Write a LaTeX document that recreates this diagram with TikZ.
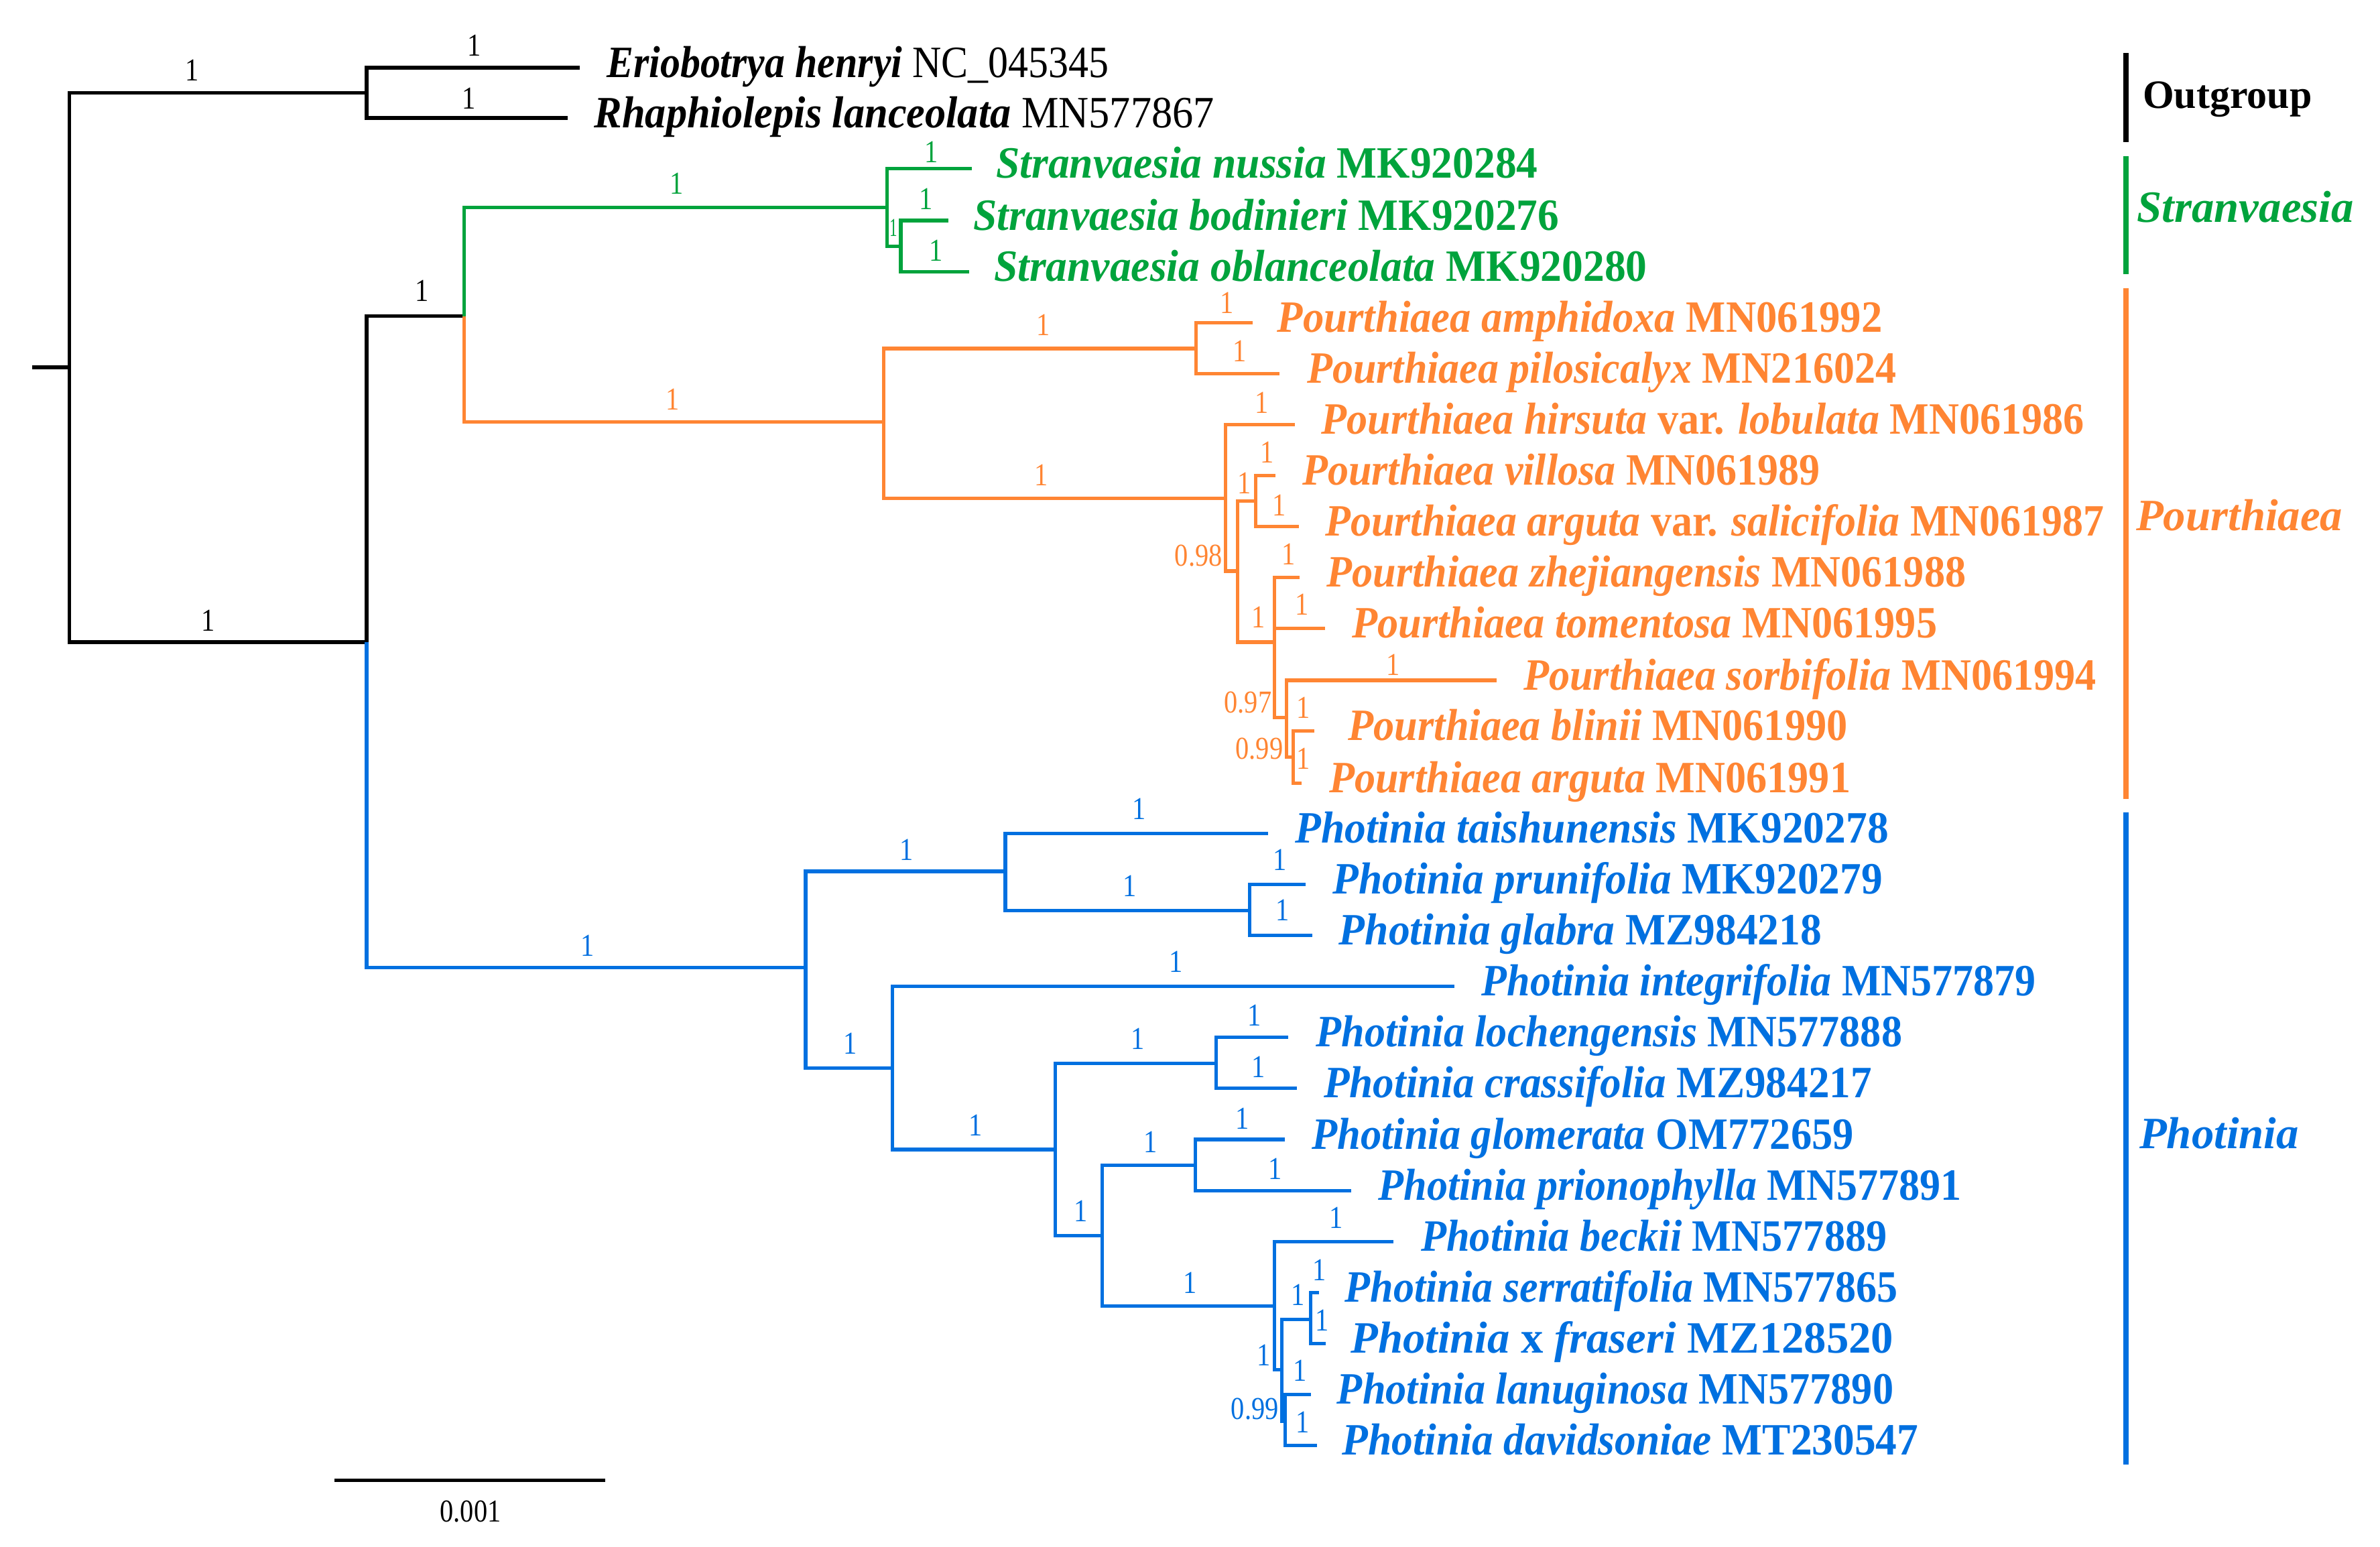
\documentclass[tikz,border=0pt]{standalone}
\usepackage{fontspec}
\setmainfont{Liberation Serif}
\usepackage{graphicx}
\definecolor{cg}{RGB}{0,163,60}
\definecolor{co}{RGB}{255,133,51}
\definecolor{cb}{RGB}{0,112,224}
\newcommand\tipfont{\fontsize{29.5}{30}\selectfont}
\newcommand\bsfont{\fontsize{21}{21}\selectfont}
\newcommand\sqz[1]{\scalebox{0.85}[1]{#1}}
\newcommand\taxon[3]{\resizebox{#1pt}{\height}{\bfseries\itshape #2 \upshape #3}}
\tikzset{
  br/.style={line width=2.3pt, line join=miter},
  bs/.style={inner sep=0pt, font=\bsfont},
  tip/.style={anchor=base west, inner sep=0pt, font=\tipfont},
  clade/.style={line width=3.6pt},
  cladelab/.style={anchor=base west, inner sep=0pt, font=\fontsize{29.5}{30}\selectfont\bfseries\itshape},
}
\begin{document}
\begin{tikzpicture}[x=1pt,y=-1pt]
\useasboundingbox (0,0) rectangle (1568,1018.7);
% ---------- coordinates ----------
\coordinate (stub) at (21,242);
\coordinate (R0) at (45.6,242);
\coordinate (OG) at (241.5,61);
\coordinate (t1) at (382,44.6);
\coordinate (t2) at (374,77.7);
\coordinate (IN) at (241.5,423);
\coordinate (SP) at (305.8,208.2);
\coordinate (A) at (584.5,136.8);
\coordinate (t3) at (640.1,111.1);
\coordinate (B) at (593.5,162.2);
\coordinate (t4) at (624.7,145.3);
\coordinate (t5) at (638.4,179.1);
\coordinate (P) at (582.3,278);
\coordinate (C) at (787.8,229.6);
\coordinate (t6) at (825.3,212.7);
\coordinate (t7) at (842.8,246.3);
\coordinate (D) at (807.3,328.4);
\coordinate (t8) at (852.9,279.7);
\coordinate (E) at (815.4,376.2);
\coordinate (F) at (827.1,330.2);
\coordinate (t9) at (840.4,313.3);
\coordinate (t10) at (855.8,346.9);
\coordinate (G) at (839.6,423);
\coordinate (t11) at (856.3,380.5);
\coordinate (t12) at (872.8,414.1);
\coordinate (H) at (847.7,472.6);
\coordinate (t13) at (986,448.2);
\coordinate (I) at (851.9,498.7);
\coordinate (t14) at (866,481.6);
\coordinate (t15) at (857.3,515.8);
\coordinate (J) at (530.8,637.5);
\coordinate (K) at (662.3,574);
\coordinate (t16) at (835.4,549);
\coordinate (L) at (823.3,599.7);
\coordinate (t17) at (860.3,582.5);
\coordinate (t18) at (864.6,616.2);
\coordinate (M) at (587.8,703.6);
\coordinate (t19) at (958,649.8);
\coordinate (N) at (695.1,757.3);
\coordinate (O) at (801.1,700.6);
\coordinate (t20) at (848.6,683.4);
\coordinate (t21) at (854.3,717);
\coordinate (Q) at (726.1,814);
\coordinate (R) at (787.4,767.6);
\coordinate (t22) at (846.5,750.7);
\coordinate (t23) at (890,784.3);
\coordinate (S) at (839.7,860.3);
\coordinate (t24) at (918,817.9);
\coordinate (T) at (844.4,902.3);
\coordinate (U) at (863.6,869.2);
\coordinate (t25) at (869.2,851.5);
\coordinate (t26) at (873.6,885.1);
\coordinate (V) at (846.6,936.1);
\coordinate (t27) at (863.7,918.7);
\coordinate (t28) at (867.7,952.3);
% ---------- branches ----------
\draw[br] (stub) -- (R0);
\draw[br] (R0) |- (OG);
\draw[br] (OG) |- (t1);
\draw[br] (OG) |- (t2);
\draw[br] (R0) |- (IN);
\draw[br] (IN) |- (SP);
\draw[br,cb] (IN) |- (J);
\draw[br,cg] (SP) |- (A);
\draw[br,cg] (A) |- (t3);
\draw[br,cg] (A) |- (B);
\draw[br,cg] (B) |- (t4);
\draw[br,cg] (B) |- (t5);
\draw[br,co] (SP) |- (P);
\draw[br,co] (P) |- (C);
\draw[br,co] (C) |- (t6);
\draw[br,co] (C) |- (t7);
\draw[br,co] (P) |- (D);
\draw[br,co] (D) |- (t8);
\draw[br,co] (D) |- (E);
\draw[br,co] (E) |- (F);
\draw[br,co] (F) |- (t9);
\draw[br,co] (F) |- (t10);
\draw[br,co] (E) |- (G);
\draw[br,co] (G) |- (t11);
\draw[br,co] (G) |- (t12);
\draw[br,co] (G) |- (H);
\draw[br,co] (H) |- (t13);
\draw[br,co] (H) |- (I);
\draw[br,co] (I) |- (t14);
\draw[br,co] (I) |- (t15);
\draw[br,cb] (J) |- (K);
\draw[br,cb] (K) |- (t16);
\draw[br,cb] (K) |- (L);
\draw[br,cb] (L) |- (t17);
\draw[br,cb] (L) |- (t18);
\draw[br,cb] (J) |- (M);
\draw[br,cb] (M) |- (t19);
\draw[br,cb] (M) |- (N);
\draw[br,cb] (N) |- (O);
\draw[br,cb] (O) |- (t20);
\draw[br,cb] (O) |- (t21);
\draw[br,cb] (N) |- (Q);
\draw[br,cb] (Q) |- (R);
\draw[br,cb] (R) |- (t22);
\draw[br,cb] (R) |- (t23);
\draw[br,cb] (Q) |- (S);
\draw[br,cb] (S) |- (t24);
\draw[br,cb] (S) |- (T);
\draw[br,cb] (T) |- (U);
\draw[br,cb] (U) |- (t25);
\draw[br,cb] (U) |- (t26);
\draw[br,cb] (T) |- (V);
\draw[br,cb] (V) |- (t27);
\draw[br,cb] (V) |- (t28);
% ---------- support values ----------
\node[bs] (sOG) at (126.7,46.5) {\sqz{1}};
\node[bs] (s1) at (312.6,30) {\sqz{1}};
\node[bs] (s2) at (309,65) {\sqz{1}};
\node[bs] (sIN) at (137,409) {\sqz{1}};
\node[bs] (sSP) at (278,191.6) {\sqz{1}};
\node[bs,cg] (sA) at (446,121) {\sqz{1}};
\node[bs,cg] (s3) at (613.4,100.1) {\sqz{1}};
\node[bs,cg,font=\fontsize{17}{17}\selectfont] (sB) at (588.6,150.2) {\scalebox{0.6}[1]{1}};
\node[bs,cg] (s4) at (610.2,131) {\sqz{1}};
\node[bs,cg] (s5) at (616.6,164.9) {\sqz{1}};
\node[bs,co] (sP) at (443,263) {\sqz{1}};
\node[bs,co] (sC) at (687.2,214.2) {\sqz{1}};
\node[bs,co] (s6) at (808.2,199.5) {\sqz{1}};
\node[bs,co] (s7) at (816.7,231.1) {\sqz{1}};
\node[bs,co] (sD) at (686,313) {\sqz{1}};
\node[bs,co] (s8) at (831.3,265.3) {\sqz{1}};
\node[bs,co,anchor=east] (sE) at (805.4,366.2) {\sqz{0.98}};
\node[bs,co] (sF) at (819.8,318.5) {\sqz{1}};
\node[bs,co] (s9) at (834.8,297.8) {\sqz{1}};
\node[bs,co] (s10) at (842.6,332.9) {\sqz{1}};
\node[bs,co] (sG) at (828.9,406.8) {\sqz{1}};
\node[bs,co] (s11) at (848.9,365.3) {\sqz{1}};
\node[bs,co] (s12) at (857.8,398.3) {\sqz{1}};
\node[bs,co,anchor=east] (sH) at (838,462.7) {\sqz{0.97}};
\node[bs,co] (s13) at (918,438) {\sqz{1}};
\node[bs,co,anchor=east] (sI) at (845.5,493.3) {\sqz{0.99}};
\node[bs,co] (s14) at (858.8,466.3) {\sqz{1}};
\node[bs,co] (s15) at (858.8,499.6) {\sqz{1}};
\node[bs,cb] (sJ) at (387,623) {\sqz{1}};
\node[bs,cb] (sK) at (597.2,560) {\sqz{1}};
\node[bs,cb] (s16) at (750.5,532.8) {\sqz{1}};
\node[bs,cb] (sL) at (744.2,583.6) {\sqz{1}};
\node[bs,cb] (s17) at (843,566.6) {\sqz{1}};
\node[bs,cb] (s18) at (845,599.7) {\sqz{1}};
\node[bs,cb] (sM) at (560.3,687.4) {\sqz{1}};
\node[bs,cb] (s19) at (774.6,633.6) {\sqz{1}};
\node[bs,cb] (sN) at (642.7,741.1) {\sqz{1}};
\node[bs,cb] (sO) at (749.4,684.5) {\sqz{1}};
\node[bs,cb] (s20) at (826.5,669) {\sqz{1}};
\node[bs,cb] (s21) at (829,702.9) {\sqz{1}};
\node[bs,cb] (sQ) at (712,797.8) {\sqz{1}};
\node[bs,cb] (sR) at (757.8,752.2) {\sqz{1}};
\node[bs,cb] (s22) at (818.4,736.7) {\sqz{1}};
\node[bs,cb] (s23) at (840.2,769.8) {\sqz{1}};
\node[bs,cb] (sS) at (784,845) {\sqz{1}};
\node[bs,cb] (s24) at (880.2,802.2) {\sqz{1}};
\node[bs,cb] (sT) at (832.4,892.7) {\sqz{1}};
\node[bs,cb] (sU) at (855.2,853) {\sqz{1}};
\node[bs,cb] (s25) at (869.2,836.8) {\sqz{1}};
\node[bs,cb] (s26) at (871.1,869.9) {\sqz{1}};
\node[bs,cb,anchor=east] (sV) at (842.5,928) {\sqz{0.99}};
\node[bs,cb] (s27) at (856.6,903) {\sqz{1}};
\node[bs,cb] (s28) at (858.1,936.9) {\sqz{1}};
% ---------- tip labels ----------
\node[tip] (n1) at (399.5,50.8) {\taxon{330.7}{Eriobotrya henryi}{\mdseries NC\_045345}};
\node[tip] (n2) at (391.3,83.9) {\taxon{408.5}{Rhaphiolepis lanceolata}{\mdseries MN577867}};
\node[tip,cg] (n3) at (656.2,117.3) {\taxon{356.8}{Stranvaesia nussia}{MK920284}};
\node[tip,cg] (n4) at (641.2,151.5) {\taxon{385.8}{Stranvaesia bodinieri}{MK920276}};
\node[tip,cg] (n5) at (654.7,185.3) {\taxon{430.3}{Stranvaesia oblanceolata}{MK920280}};
\node[tip,co] (n6) at (841.3,218.9) {\taxon{398.7}{Pourthiaea amphidoxa}{MN061992}};
\node[tip,co] (n7) at (861,252.5) {\taxon{388}{Pourthiaea pilosicalyx}{MN216024}};
\node[tip,co] (n8) at (870.5,285.9) {\taxon{502.5}{Pourthiaea hirsuta {\upshape var.} lobulata}{MN061986}};
\node[tip,co] (n9) at (857.8,319.5) {\taxon{341.2}{Pourthiaea villosa}{MN061989}};
\node[tip,co] (n10) at (873,353.1) {\taxon{513}{Pourthiaea arguta {\upshape var.} salicifolia}{MN061987}};
\node[tip,co] (n11) at (874,386.7) {\taxon{421}{Pourthiaea zhejiangensis}{MN061988}};
\node[tip,co] (n12) at (890.5,420.3) {\taxon{385.5}{Pourthiaea tomentosa}{MN061995}};
\node[tip,co] (n13) at (1003.5,454.4) {\taxon{377.5}{Pourthiaea sorbifolia}{MN061994}};
\node[tip,co] (n14) at (888,487.8) {\taxon{329}{Pourthiaea blinii}{MN061990}};
\node[tip,co] (n15) at (875.5,522) {\taxon{343.5}{Pourthiaea arguta}{MN061991}};
\node[tip,cb] (n16) at (853,555.2) {\taxon{391}{Photinia taishunensis}{MK920278}};
\node[tip,cb] (n17) at (878,588.7) {\taxon{362}{Photinia prunifolia}{MK920279}};
\node[tip,cb] (n18) at (882,622.4) {\taxon{318}{Photinia glabra}{MZ984218}};
\node[tip,cb] (n19) at (976,656) {\taxon{365}{Photinia integrifolia}{MN577879}};
\node[tip,cb] (n20) at (867,689.6) {\taxon{386}{Photinia lochengensis}{MN577888}};
\node[tip,cb] (n21) at (872,723.2) {\taxon{361}{Photinia crassifolia}{MZ984217}};
\node[tip,cb] (n22) at (864,756.9) {\taxon{357}{Photinia glomerata}{OM772659}};
\node[tip,cb] (n23) at (908,790.5) {\taxon{384}{Photinia prionophylla}{MN577891}};
\node[tip,cb] (n24) at (936,824.1) {\taxon{307}{Photinia beckii}{MN577889}};
\node[tip,cb] (n25) at (886,857.7) {\taxon{364}{Photinia serratifolia}{MN577865}};
\node[tip,cb] (n26) at (889.7,891.3) {\taxon{357.6}{Photinia {\upshape x} fraseri}{MZ128520}};
\node[tip,cb] (n27) at (880.7,924.9) {\taxon{366.6}{Photinia lanuginosa}{MN577890}};
\node[tip,cb] (n28) at (884,958.5) {\taxon{379.7}{Photinia davidsoniae}{MT230547}};
% ---------- clade bars ----------
\coordinate (ob1) at (1400.8,34.9);
\coordinate (ob2) at (1400.8,93.8);
\coordinate (gb1) at (1400.8,102.7);
\coordinate (gb2) at (1400.8,180.7);
\coordinate (pb1) at (1400.8,189.7);
\coordinate (pb2) at (1400.8,526.2);
\coordinate (hb1) at (1400.8,535.1);
\coordinate (hb2) at (1400.8,964.9);
\draw[clade] (ob1) -- (ob2);
\draw[clade,cg] (gb1) -- (gb2);
\draw[clade,co] (pb1) -- (pb2);
\draw[clade,cb] (hb1) -- (hb2);
\node[anchor=base west,inner sep=0pt,font=\fontsize{26.5}{27}\selectfont\bfseries] (cOut) at (1411.5,71.4) {Outgroup};
\node[cladelab,cg] (cStr) at (1407.8,146.5) {Stranvaesia};
\node[cladelab,co] (cPou) at (1407.1,349.5) {Pourthiaea};
\node[cladelab,cb] (cPho) at (1409.3,756.5) {Photinia};
% ---------- scale bar ----------
\coordinate (sb1) at (220.5,975.2);
\coordinate (sb2) at (398.8,975.2);
\draw[line width=1.8pt] (sb1) -- (sb2);
\node[bs] (sbl) at (310,995.8) {\sqz{0.001}};
\end{tikzpicture}
\end{document}
